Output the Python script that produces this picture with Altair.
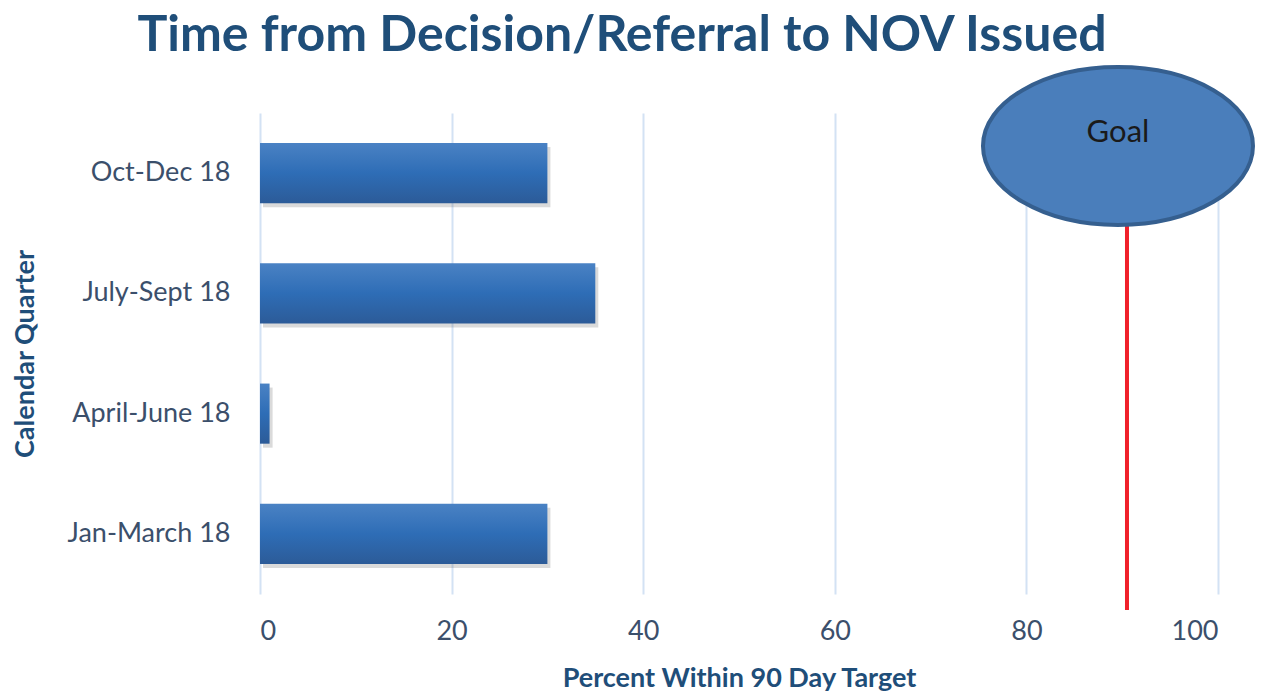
import altair as alt
import pandas as pd

quarters = ["Oct-Dec 18", "July-Sept 18", "April-June 18", "Jan-March 18"]
percents = [30, 35, 1, 30]
goal_value = [90.5]
goal_label = ["Goal"]
x_ticks = [0, 20, 40, 60, 80, 100]

df = pd.DataFrame({"quarter": quarters, "pct": percents})
goal_df = pd.DataFrame({"goal": goal_value, "label": goal_label})

FONT = "Lato"
NAVY = "#1F4E79"
LABEL = "#3B4F6B"

x_scale = alt.Scale(domain=[0, 100], nice=False, zero=True)

x_enc = alt.X(
    "pct:Q",
    scale=x_scale,
    axis=alt.Axis(
        title="Percent Within 90 Day Target",
        values=x_ticks,
        grid=True,
        gridColor="#D3E2F4",
        gridWidth=2,
        domain=False,
        ticks=False,
        labelFont=FONT,
        labelFontSize=27,
        labelColor=LABEL,
        labelPadding=24,
        titleFont=FONT,
        titleFontSize=27,
        titleFontWeight="bold",
        titleColor=NAVY,
        titlePadding=21,
    ),
)

y_enc = alt.Y(
    "quarter:N",
    sort=quarters,
    scale=alt.Scale(paddingInner=0.5, paddingOuter=0.25),
    axis=alt.Axis(
        title="Calendar Quarter",
        domain=False,
        ticks=False,
        grid=False,
        labelFont=FONT,
        labelFontSize=27,
        labelColor=LABEL,
        labelPadding=30,
        titleFont=FONT,
        titleFontSize=27,
        titleFontWeight="bold",
        titleColor=NAVY,
        titlePadding=28,
    ),
)

shadow = alt.Chart(df).mark_bar(
    color="#555555", opacity=0.22, xOffset=3, yOffset=4
).encode(x=x_enc, y=y_enc)

gradient = alt.Gradient(
    gradient="linear",
    x1=0, y1=0, x2=0, y2=1,
    stops=[
        alt.GradientStop(color="#4A82C4", offset=0),
        alt.GradientStop(color="#2E6DB6", offset=0.5),
        alt.GradientStop(color="#2C5B98", offset=1),
    ],
)

bars = alt.Chart(df).mark_bar(color=gradient).encode(x=x_enc, y=y_enc)

goal_line = alt.Chart(goal_df).mark_rule(color="#F0202A", strokeWidth=4).encode(
    x=alt.X("goal:Q", scale=x_scale),
    y=alt.value(33),
    y2=alt.value(497),
)

ellipse_path = "M-1,0 A1,0.585 0 1,0 1,0 A1,0.585 0 1,0 -1,0 Z"
goal_shape = alt.Chart(goal_df).mark_point(
    shape=ellipse_path,
    size=270 * 270,
    filled=True,
    fill="#4A7EBB",
    stroke="#355F8F",
    strokeWidth=4,
    opacity=1,
    xOffset=-9,
).encode(
    x=alt.X("goal:Q", scale=x_scale),
    y=alt.value(33),
)

goal_text = alt.Chart(goal_df).mark_text(
    font=FONT, fontSize=31, color="#1A1A1A", baseline="middle", align="center", dx=-9
).encode(
    x=alt.X("goal:Q", scale=x_scale),
    y=alt.value(20),
    text="label:N",
)

chart = alt.layer(shadow, bars, goal_line, goal_shape, goal_text).properties(
    width=958,
    height=481,
    autosize=alt.AutoSizeParams(type="none"),
    padding={"left": 252, "top": 105, "right": 37, "bottom": 97},
    title=alt.TitleParams(
        text="Time from Decision/Referral to NOV Issued",
        font=FONT,
        fontSize=50,
        fontWeight="bold",
        color=NAVY,
        anchor="middle",
        frame="group",
        dx=-117,
        offset=-2,
    ),
).configure_view(stroke=None)

chart.save("out.html", embed_options={"renderer": "svg", "actions": False})
